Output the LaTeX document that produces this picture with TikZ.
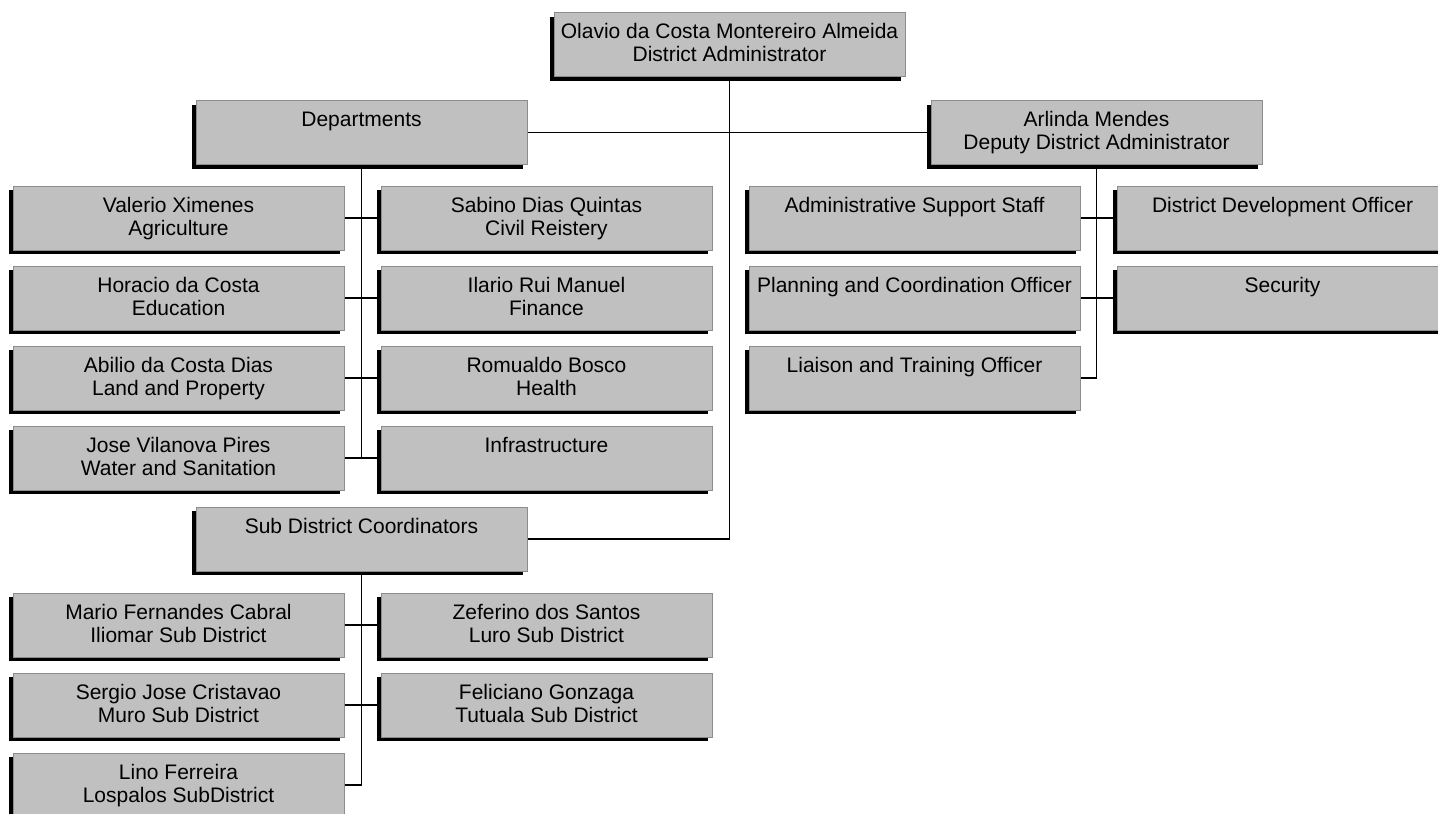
\documentclass[tikz,border=0pt]{standalone}
\usepackage{fontspec}
\setmainfont{Liberation Sans}
\usetikzlibrary{shadows}
\definecolor{boxfill}{HTML}{C0C0C0}
\definecolor{boxline}{HTML}{8C8C8C}
\tikzset{
  obox/.style={draw=boxline, line width=1pt, fill=boxfill, minimum height=64pt, inner sep=0pt,
    general shadow={fill=black, shadow xshift=-4pt, shadow yshift=-4pt}},
  txt/.style={anchor=base, inner sep=0pt, font=\fontsize{21}{23}\selectfont},
  conn/.style={draw=black, line width=1.5pt}
}
\newcommand\orgbox[6]{%
  \node[obox, minimum width=#4] (#1) at (#2,#3) {};
  \node[txt] (#1-a) at ([yshift=-26.5pt]#1.north) {#5};
  \node[txt] (#1-b) at ([yshift=-49.5pt]#1.north) {#6};
}
\begin{document}
\begin{tikzpicture}[x=1pt, y=-1pt]
\clip (0,0) rectangle (1438,814);
% top level
\orgbox{top}{729.5}{44.5}{351pt}{Olavio da Costa Montereiro Almeida}{District Administrator}
\orgbox{dep}{361.5}{132.5}{331pt}{Departments}{}
\orgbox{deputy}{1096.5}{132.5}{331pt}{Arlinda Mendes}{Deputy District Administrator}
% departments
\orgbox{l1}{178.5}{218}{331pt}{Valerio Ximenes}{Agriculture}
\orgbox{r1}{546.5}{218}{331pt}{Sabino Dias Quintas}{Civil Reistery}
\orgbox{l2}{178.5}{298}{331pt}{Horacio da Costa}{Education}
\orgbox{r2}{546.5}{298}{331pt}{Ilario Rui Manuel}{Finance}
\orgbox{l3}{178.5}{378}{331pt}{Abilio da Costa Dias}{Land and Property}
\orgbox{r3}{546.5}{378}{331pt}{Romualdo Bosco}{Health}
\orgbox{l4}{178.5}{458}{331pt}{Jose Vilanova Pires}{Water and Sanitation}
\orgbox{r4}{546.5}{458}{331pt}{Infrastructure}{}
% sub districts
\orgbox{sub}{361.5}{539}{331pt}{Sub District Coordinators}{}
\orgbox{s1}{178.5}{625}{331pt}{Mario Fernandes Cabral}{Iliomar Sub District}
\orgbox{t1}{546.5}{625}{331pt}{Zeferino dos Santos}{Luro Sub District}
\orgbox{s2}{178.5}{705}{331pt}{Sergio Jose Cristavao}{Muro Sub District}
\orgbox{t2}{546.5}{705}{331pt}{Feliciano Gonzaga}{Tutuala Sub District}
\orgbox{s3}{178.5}{785}{331pt}{Lino Ferreira}{Lospalos SubDistrict}
% deputy staff
\orgbox{a1}{914.5}{218}{331pt}{Administrative Support Staff}{}
\orgbox{b1}{1282.5}{218}{331pt}{District Development Officer}{}
\orgbox{a2}{914.5}{298}{331pt}{Planning and Coordination Officer}{}
\orgbox{b2}{1282.5}{298}{331pt}{Security}{}
\orgbox{a3}{914.5}{378}{331pt}{Liaison and Training Officer}{}
% connectors
\draw[conn] (top.south) |- (sub.east);
\draw[conn] (dep.east) -- (deputy.west);
\draw[conn] (dep.south) -- (dep.south |- l4.east);
\draw[conn] (l1.east) -- (r1.west);
\draw[conn] (l2.east) -- (r2.west);
\draw[conn] (l3.east) -- (r3.west);
\draw[conn] (l4.east) -- (r4.west);
\draw[conn] (sub.south) |- (s3.east);
\draw[conn] (s1.east) -- (t1.west);
\draw[conn] (s2.east) -- (t2.west);
\draw[conn] (deputy.south) |- (a3.east);
\draw[conn] (a1.east) -- (b1.west);
\draw[conn] (a2.east) -- (b2.west);
\end{tikzpicture}
\end{document}
